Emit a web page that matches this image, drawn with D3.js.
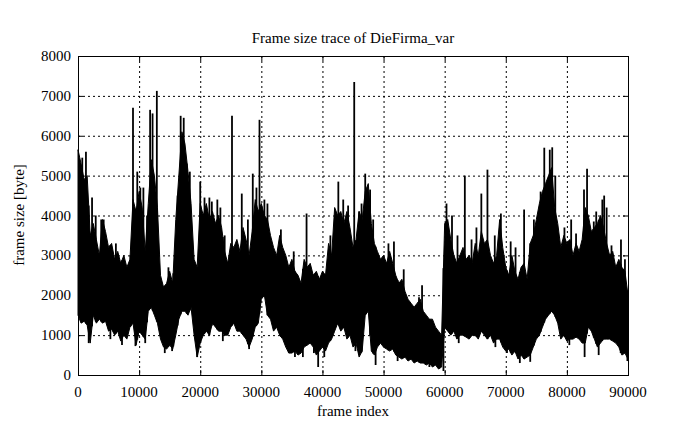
<!DOCTYPE html>
<html><head><meta charset="utf-8">
<script src="https://cdn.jsdelivr.net/npm/d3@7"></script>
<style>body{margin:0;background:#fff}svg{display:block}</style>
</head><body>
<svg id="c" width="695" height="429" font-family="'Liberation Serif', 'Times New Roman', 'DejaVu Serif', serif"></svg>
<script>
// envelope every 500 frames (frame index = i*500)
const envHigh = [5650,5300,4900,5000,3500,3800,3400,3000,3900,3600,3200,3300,2900,3100,2800,3000,2700,2900,4400,4100,
4600,4200,3100,4300,5400,5000,4200,2500,2200,2300,2600,2300,3900,5000,6100,5800,5100,4300,2900,2700,
4300,4000,4300,3900,4100,3800,4000,3700,3100,2800,3300,3200,3400,3100,3700,3400,3000,3600,4400,4100,
4300,4000,3900,3500,3200,3000,3500,3200,3000,2700,2900,2600,2500,2300,2900,2700,2800,2500,2600,2400,
2600,2500,3300,3000,4200,4000,4100,3800,4100,3700,3200,3400,4100,3900,4600,4800,3800,3300,3100,2900,
3000,2800,3100,2800,2500,2300,2400,2100,1900,1800,1700,1800,1900,1600,1500,1400,1400,1200,1100,1000,
3800,3900,3400,3000,2800,3000,3200,2900,3000,2800,3300,3000,3600,3300,3400,3000,2800,3000,3900,3200,
2700,2500,3000,2600,2400,2700,2800,2400,3300,3500,3900,4300,4600,4800,5000,5200,4200,3800,3200,3500,
3300,3400,3000,3300,3100,3400,4200,4000,3600,3700,3800,4000,3700,3300,3000,3100,2700,2900,2700,2600,2000];
const envLow = [1500,1300,1350,1250,800,1500,1300,1400,1300,1350,1100,1150,1000,1100,850,1000,900,1200,1300,750,
1100,1000,900,1600,1700,1500,1300,900,700,650,750,650,1000,1400,1600,1600,1500,1700,1000,450,
800,1000,1100,1000,1300,1200,1100,1100,1000,1000,1200,1300,1100,1100,1000,900,700,900,1200,1300,
1900,2000,1500,1400,1100,1200,1000,900,700,550,550,600,500,550,700,750,800,700,500,600,
700,600,800,900,1100,1300,1100,1200,900,1000,700,800,450,600,1500,1600,600,500,700,800,
700,650,600,650,500,450,400,450,350,400,300,350,300,300,250,300,200,250,150,200,
1200,1100,1000,1100,900,1000,1000,950,900,1000,1000,900,1100,1000,900,1000,800,900,900,700,
600,650,500,600,400,500,400,450,500,700,900,1000,1200,1400,1500,1600,1500,1300,900,1000,
850,900,900,950,900,800,800,1200,1100,900,700,800,900,900,900,850,800,700,500,550,400];
// isolated peaks [frame, bytes]
const peakFrames = [700,1300,2300,2900,3800,4200,6200,8600,9000,9700,10200,10700,11300,11800,12200,12900,14800,15600,16300,16800,17300,17800,18300,20000,20700,21500,21900,22800,23300,24000,25200,26800,27800,28600,29200,29700,30500,31000,33200,35300,37400,41300,42600,43400,44200,45200,46400,47000,47800,48300,50800,51700,53300,55800,56300,60300,61200,62100,63300,64400,65200,66000,67000,68200,69200,70800,71600,73000,74600,75700,76300,77200,77600,78100,79600,80700,81500,82800,83300,84400,84800,85800,86100,86500,87300,88850,89500];
const peakValues = [5450,5600,4450,4000,3900,3900,3300,3000,6700,5100,4700,4700,4000,6650,6560,7125,2700,2550,4500,6500,6450,5300,5100,4850,4450,4450,4350,4400,4200,3500,6500,4550,3900,5050,4700,6400,4400,4300,3650,3100,4050,3500,4850,4400,4250,7350,4300,5050,4650,3900,3300,3350,2650,1950,2250,4300,4000,3500,5000,3400,3700,4550,5150,3500,4050,3350,3200,4150,3900,4600,5700,5650,5710,5000,3700,3900,3550,4650,5170,3850,4100,4400,4500,4200,3250,3400,2900];
// isolated dips [frame, bytes]
const dipFrames = [1750,5300,7200,9400,11000,14200,15400,19500,23700,28000,34500,35500,36800,38600,39300,40300,45400,46000,48700,52300,57500,59800,62300,68300,70200,72300,74000,80400,82900,85200,88800,89900];
const dipValues = [800,900,750,725,800,550,600,450,850,650,550,450,450,550,200,450,600,500,250,350,200,100,800,700,550,300,330,750,450,500,550,350];
const xTicks = [0,10000,20000,30000,40000,50000,60000,70000,80000,90000];
const yTicks = [0,1000,2000,3000,4000,5000,6000,7000,8000];

const FONT = "'Liberation Serif', 'Times New Roman', 'DejaVu Serif', serif";
const svg = d3.select("#c");
const L=78,R=628,T=56,B=375;
const x = d3.scaleLinear().domain([0,90000]).range([L,R]);
const y = d3.scaleLinear().domain([0,8000]).range([B,T]);

// grid
const g = svg.append("g");
g.selectAll(".gx").data(xTicks.slice(1,-1)).enter().append("line")
 .attr("x1",d=>x(d)+.5).attr("x2",d=>x(d)+.5).attr("y1",T).attr("y2",B)
 .attr("stroke","#000").attr("stroke-dasharray","2,3");
g.selectAll(".gy").data(yTicks.slice(1,-1)).enter().append("line")
 .attr("y1",d=>y(d)+.5).attr("y2",d=>y(d)+.5).attr("x1",L).attr("x2",R)
 .attr("stroke","#000").attr("stroke-dasharray","2,3");

// data
const env = envHigh.map((h,i)=>({f:i*500,h:h,l:envLow[i]}));
svg.append("path").datum(env)
 .attr("d",d3.area().x(d=>x(d.f)).y0(d=>y(d.l)).y1(d=>y(d.h)))
 .attr("fill","#000").attr("stroke","#000").attr("stroke-width",1);
const interp = (f,arr)=>{const i=Math.min(Math.floor(f/500),arr.length-2);const t=f/500-i;return arr[i]*(1-t)+arr[i+1]*t;};
svg.selectAll(".pk").data(peakFrames).enter().append("line")
 .attr("x1",d=>x(d)).attr("x2",d=>x(d))
 .attr("y1",(d,i)=>y(peakValues[i])).attr("y2",d=>y(interp(d,envLow)))
 .attr("stroke","#000").attr("stroke-width",1.8);
svg.selectAll(".dp").data(dipFrames).enter().append("line")
 .attr("x1",d=>x(d)).attr("x2",d=>x(d))
 .attr("y1",(d,i)=>y(dipValues[i])).attr("y2",d=>y(interp(d,envHigh)))
 .attr("stroke","#000").attr("stroke-width",1.8);

// frame
svg.append("rect").attr("x",L+.5).attr("y",T+.5).attr("width",R-L).attr("height",B-T)
 .attr("fill","none").attr("stroke","#000");
// ticks (inward, mirrored)
const tl=5;
xTicks.forEach(t=>{
  svg.append("line").attr("x1",x(t)+.5).attr("x2",x(t)+.5).attr("y1",B).attr("y2",B-tl).attr("stroke","#000");
  svg.append("line").attr("x1",x(t)+.5).attr("x2",x(t)+.5).attr("y1",T).attr("y2",T+tl).attr("stroke","#000");
});
yTicks.forEach(t=>{
  svg.append("line").attr("y1",y(t)+.5).attr("y2",y(t)+.5).attr("x1",L).attr("x2",L+tl).attr("stroke","#000");
  svg.append("line").attr("y1",y(t)+.5).attr("y2",y(t)+.5).attr("x1",R).attr("x2",R-tl).attr("stroke","#000");
});
// tick labels
svg.selectAll(".xl").data(xTicks).enter().append("text").attr("font-family",FONT)
 .attr("x",d=>x(d)).attr("y",397).attr("text-anchor","middle").attr("font-size",15).text(d=>d);
svg.selectAll(".yl").data(yTicks).enter().append("text").attr("font-family",FONT)
 .attr("x",71).attr("y",d=>y(d)+5).attr("text-anchor","end").attr("font-size",15).text(d=>d);
// titles
svg.append("text").attr("font-family",FONT).attr("x",353).attr("y",43).attr("text-anchor","middle").attr("font-size",15).text("Frame size trace of DieFirma_var");
svg.append("text").attr("font-family",FONT).attr("x",353).attr("y",416).attr("text-anchor","middle").attr("font-size",15).text("frame index");
svg.append("text").attr("font-family",FONT).attr("transform","translate(24,215) rotate(-90)").attr("text-anchor","middle").attr("font-size",15).text("frame size [byte]");
</script>
</body></html>
